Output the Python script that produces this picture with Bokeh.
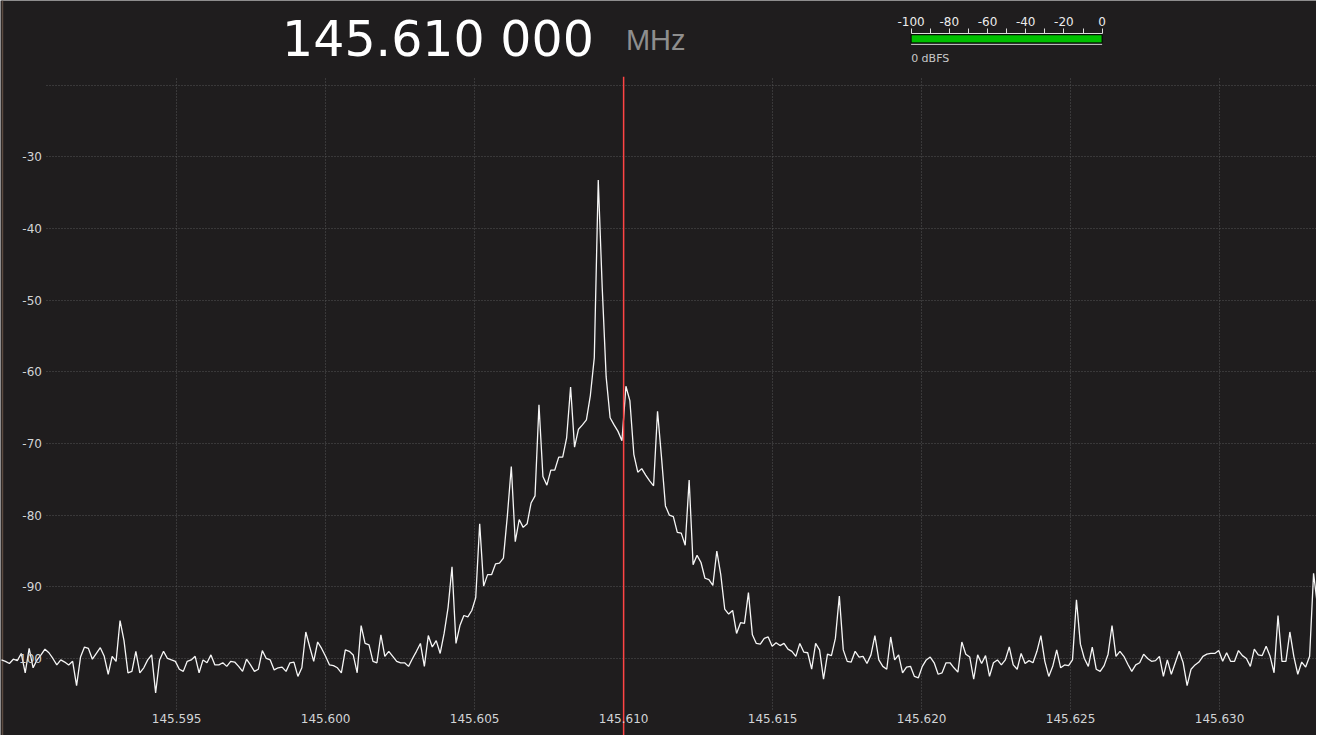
import numpy as np
from bokeh.plotting import figure
from bokeh.models import Range1d, FixedTicker, LinearAxis, Grid
from bokeh.core.properties import value
from bokeh.embed import file_html
from bokeh.resources import INLINE

# ---------------- data ----------------
center_freq_mhz = 145.610
freq_display = "145.610 000"
freq_unit = "MHz"

# FFT bins (uniform spacing) and the level read for each bin, dB
bin_start_mhz = 145.5891214
bin_width_mhz = 0.00013263
level_db = [
    -100.2, -100.4, -100.7, -100.1, -100.3, -99.3, -102.0, -98.6, -101.3, -100.2,
    -99.5, -98.7, -99.2, -100.0, -100.9, -100.2, -100.5, -100.9, -100.4, -103.8,
    -99.8, -98.4, -98.6, -100.1, -99.3, -98.5, -99.7, -102.2, -99.7, -100.4,
    -94.7, -97.5, -102.0, -101.8, -99.0, -102.0, -101.3, -100.2, -99.5, -104.8,
    -100.2, -99.0, -100.0, -100.2, -100.4, -101.5, -101.8, -100.4, -100.2, -99.7,
    -102.0, -100.2, -100.6, -99.5, -100.9, -100.9, -100.6, -101.1, -100.4, -100.5,
    -101.1, -101.8, -100.1, -100.9, -101.8, -101.5, -98.9, -100.0, -100.2, -101.6,
    -101.3, -101.2, -101.8, -100.6, -100.5, -102.5, -101.3, -96.3, -98.4, -100.4,
    -97.7, -98.6, -99.7, -100.9, -101.0, -101.3, -102.0, -98.8, -99.0, -99.5,
    -102.0, -95.4, -97.9, -98.1, -100.4, -100.6, -96.7, -99.7, -99.0, -99.7,
    -100.4, -100.6, -100.6, -101.1, -100.0, -99.0, -97.9, -101.1, -96.8, -98.4,
    -97.5, -99.3, -96.5, -92.9, -87.2, -97.9, -95.4, -94.0, -94.2, -93.3,
    -91.5, -81.2, -89.9, -88.3, -88.3, -86.8, -86.7, -86.0, -80.1, -73.2,
    -83.7, -80.6, -81.7, -81.2, -78.3, -77.3, -64.6, -74.6, -75.8, -73.7,
    -73.7, -71.9, -71.9, -69.2, -62.1, -70.5, -68.0, -67.4, -66.7, -63.3,
    -58.0, -33.2, -48.2, -60.7, -66.4, -67.4, -68.3, -69.6, -62.0, -64.0,
    -71.5, -74.0, -73.5, -74.4, -75.2, -75.9, -65.5, -71.9, -78.7, -80.0,
    -80.2, -82.4, -82.5, -84.2, -75.1, -86.9, -85.6, -86.6, -88.8, -89.0,
    -89.8, -85.0, -88.3, -93.1, -93.8, -93.3, -96.5, -95.0, -95.1, -90.8,
    -96.7, -97.9, -98.0, -97.2, -97.0, -98.3, -97.8, -98.2, -97.9, -98.7,
    -99.0, -99.7, -97.9, -99.1, -99.2, -101.5, -97.9, -98.8, -102.9, -99.4,
    -99.6, -97.2, -91.3, -98.8, -100.4, -100.5, -99.0, -99.8, -99.7, -100.7,
    -99.5, -96.8, -100.2, -101.1, -101.5, -97.0, -100.2, -99.5, -102.0, -101.2,
    -101.1, -102.5, -102.7, -101.1, -100.2, -99.8, -100.6, -102.2, -102.0, -100.6,
    -100.6, -101.3, -101.9, -97.7, -99.4, -99.8, -102.9, -99.5, -100.7, -99.6,
    -102.5, -100.6, -100.2, -100.9, -100.2, -98.4, -100.9, -101.5, -99.3, -100.7,
    -100.3, -100.6, -99.0, -96.8, -100.4, -102.5, -101.1, -98.8, -101.3, -100.9,
    -101.0, -100.2, -91.8, -98.0, -100.0, -101.1, -98.4, -101.5, -101.8, -101.0,
    -99.4, -95.4, -99.7, -99.0, -99.7, -100.8, -101.8, -100.9, -100.6, -99.4,
    -100.0, -100.4, -100.3, -99.7, -102.5, -100.2, -102.2, -100.6, -99.0, -100.6,
    -103.8, -101.5, -100.9, -100.5, -99.7, -99.4, -99.3, -99.3, -98.9, -100.4,
    -99.2, -100.4, -100.4, -98.9, -99.6, -100.0, -101.1, -98.7, -99.5, -99.6,
    -98.3, -99.7, -102.0, -94.0, -100.4, -100.4, -96.3, -99.7, -102.2, -100.5,
    -101.2, -99.7, -88.1, -92.7,
]

x_tick_values = [145.595, 145.600, 145.605, 145.610, 145.615, 145.620, 145.625, 145.630]
x_tick_labels = ["145.595", "145.600", "145.605", "145.610", "145.615", "145.620", "145.625", "145.630"]
y_tick_values = [-100, -90, -80, -70, -60, -50, -40, -30, -20]
y_tick_labels = ["-100", "-90", "-80", "-70", "-60", "-50", "-40", "-30", ""]

meter_ticks = [-100, -80, -60, -40, -20, 0]
meter_tick_labels = ["-100", "-80", "-60", "-40", "-20", "0"]
meter_minor_ticks = [-90, -70, -50, -30, -10]
meter_level_dbfs = 0
meter_caption = "0 dBFS"

# ---------------- styles / layout helpers ----------------
BG = "#1f1d1e"
W, H = 1316, 735
GRID_C = "#555555"
LABEL_C = "#d2d4d6"
FONT = "DejaVu Sans"


def fx(px):
    """layout position (reference pixels, x) -> MHz"""
    return 145.595 + (px - 178.3) / 30160.0


def fy(py):
    """layout position (reference pixels, y) -> dB"""
    return -20.0 - (py - 86.7) / 7.32


freqs = bin_start_mhz + bin_width_mhz * np.arange(len(level_db))

p = figure(width=W, height=H,
           x_range=Range1d(fx(0), fx(1332)),
           y_range=Range1d(fy(751), fy(0)),
           output_backend="svg", toolbar_location=None,
           min_border_left=0, min_border_right=0, min_border_top=0, min_border_bottom=0,
           background_fill_color=BG, border_fill_color=BG, outline_line_color=None)

# ---- spectrum axes (drawn inside the display, as in the receiver UI) ----
xa = p.xaxis[0]
xa.ticker = FixedTicker(ticks=x_tick_values)
xa.major_label_overrides = dict(zip(x_tick_values, x_tick_labels))
xa.fixed_location = fy(724.4)
ya = p.yaxis[0]
ya.ticker = FixedTicker(ticks=y_tick_values)
ya.major_label_overrides = dict(zip(y_tick_values, y_tick_labels))
ya.fixed_location = fx(44)
for ax in (xa, ya):
    ax.axis_line_color = None
    ax.major_tick_line_color = None
    ax.minor_tick_line_color = None
    ax.major_tick_out = 0
    ax.major_tick_in = 0
    ax.minor_tick_out = 0
    ax.minor_tick_in = 0
    ax.major_label_text_color = LABEL_C
    ax.major_label_text_font = FONT
    ax.major_label_text_font_size = "12px"
xa.major_label_standoff = 5
ya.major_label_standoff = 2

for g in (p.xgrid[0], p.ygrid[0]):
    g.grid_line_color = GRID_C
    g.grid_line_dash = "1 2"
    g.grid_line_width = 1
if "cross_bounds" in Grid.properties():
    p.ygrid[0].cross_bounds = (fx(47), fx(1332))
    p.xgrid[0].cross_bounds = (fy(724.4), fy(78))

# window edge
p.segment(x0=[fx(2)], x1=[fx(2)], y0=[fy(0)], y1=[fy(760)], line_color="#5b4b41", line_width=1.5)

# ---- spectrum trace ----
p.line(freqs, level_db, line_color="#f6f6f6", line_width=1.3)

# ---- tuned frequency marker ----
p.segment(x0=[center_freq_mhz], x1=[center_freq_mhz], y0=[fy(78)], y1=[fy(760)],
          line_color="#ff4444", line_width=1.5)

# ---- frequency readout ----
p.text(x=[fx(285)], y=[fy(39.5)], text=[freq_display], text_font=value(FONT), text_font_size="49px",
       text_color="#ffffff", text_baseline="middle", text_align="left")
p.text(x=[fx(633)], y=[fy(40)], text=[freq_unit], text_font=value("Liberation Sans"), text_font_size="29px",
       text_color="#8e8e8e", text_baseline="middle", text_align="left")

# ---- level meter ----
k = 100.0 / (1115.0 - 921.7)
p.extra_x_ranges = {"meter": Range1d(-100 - 921.7 * k, 0 + (1332 - 1115.0) * k)}
ma = LinearAxis(x_range_name="meter", fixed_location=fy(33.3), bounds=(-100, 0),
                ticker=FixedTicker(ticks=meter_ticks, minor_ticks=meter_minor_ticks))
ma.major_label_overrides = dict(zip(meter_ticks, meter_tick_labels))
ma.axis_line_color = "#dcdcdc"
ma.major_tick_line_color = "#dcdcdc"
ma.minor_tick_line_color = "#dcdcdc"
ma.major_tick_out = 5
ma.major_tick_in = 0
ma.minor_tick_out = 5
ma.minor_tick_in = 0
ma.major_label_standoff = 2
ma.major_label_text_color = "#ececec"
ma.major_label_text_font = FONT
ma.major_label_text_font_size = "12px"
p.add_layout(ma, "above")

p.quad(left=[meter_ticks[0]], right=[meter_level_dbfs], top=[fy(35)], bottom=[fy(43.3)],
       x_range_name="meter", fill_color="#00c000", line_color="#000000", line_width=1)
p.segment(x0=[meter_ticks[0]], x1=[meter_ticks[-1]], y0=[fy(44.8)], y1=[fy(44.8)],
          x_range_name="meter", line_color="#d8d8d8", line_width=1)
p.text(x=[meter_ticks[0]], y=[fy(59.3)], text=[meter_caption], x_range_name="meter",
       text_font=value(FONT), text_font_size="11px", text_color="#c8c8c8",
       text_baseline="middle", text_align="left")

open("out.html", "w").write(file_html(p, INLINE))
